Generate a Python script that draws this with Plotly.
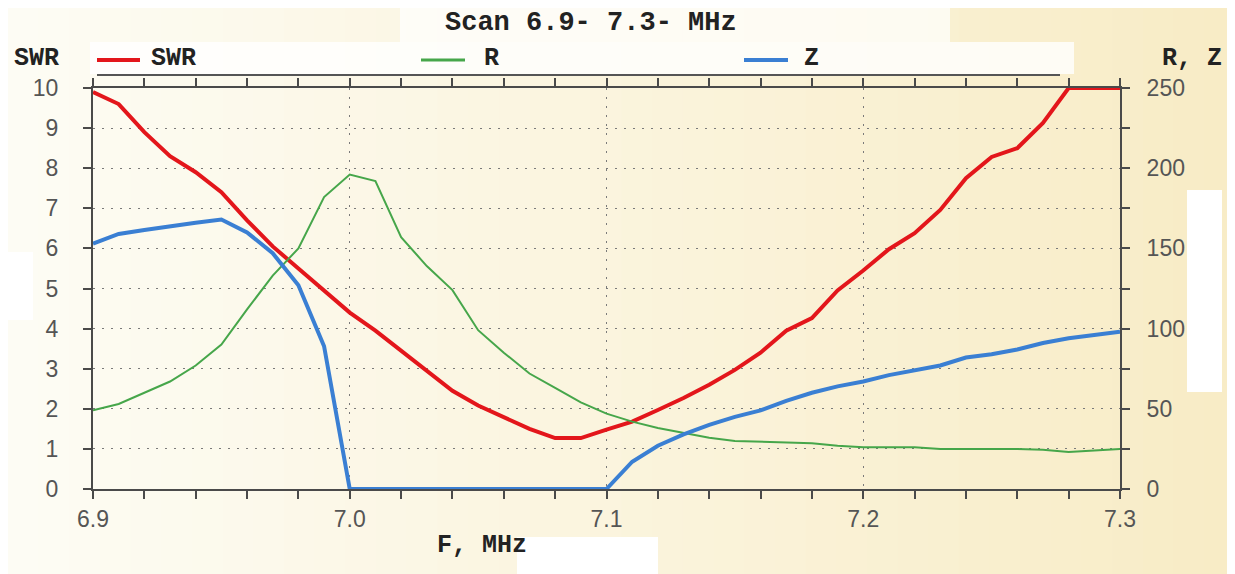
import plotly.graph_objects as go

# ---------------- data ----------------
freq = [6.90, 6.91, 6.92, 6.93, 6.94, 6.95, 6.96, 6.97, 6.98, 6.99,
        7.00, 7.01, 7.02, 7.03, 7.04, 7.05, 7.06, 7.07, 7.08, 7.09,
        7.10, 7.11, 7.12, 7.13, 7.14, 7.15, 7.16, 7.17, 7.18, 7.19,
        7.20, 7.21, 7.22, 7.23, 7.24, 7.25, 7.26, 7.27, 7.28, 7.29, 7.30]

swr = [9.9, 9.6, 8.9, 8.3, 7.9, 7.4, 6.7, 6.05, 5.5, 4.95,
       4.4, 3.95, 3.45, 2.95, 2.45, 2.08, 1.78, 1.5, 1.27, 1.27,
       1.48, 1.68, 1.97, 2.27, 2.6, 2.97, 3.4, 3.95, 4.26, 4.95,
       5.45, 5.98, 6.38, 6.96, 7.75, 8.28, 8.5, 9.13, 10.0, 10.0, 10.0]

r_ohm = [49, 53, 60, 67, 77, 90, 112, 133, 150, 182,
         196, 192, 157, 139, 124, 99, 85, 72, 63, 54,
         47, 42, 38, 35, 32, 30, 29.5, 29, 28.5, 27,
         26, 26, 26, 25, 25, 25, 25, 24.5, 23, 24, 25]

z_ohm = [153, 159, 161.5, 164, 166, 168, 160, 147, 127, 89,
         0, 0, 0, 0, 0, 0, 0, 0, 0, 0,
         0, 17, 27, 34, 40, 45, 49, 55, 60, 64,
         67, 71, 74, 77, 82, 84, 87, 91, 94, 96, 98]

x_ticks = [6.9, 7.0, 7.1, 7.2, 7.3]
x_tick_text = ["6.9", "7.0", "7.1", "7.2", "7.3"]
swr_ticks = list(range(0, 11))
rz_ticks = list(range(0, 251, 25))
rz_tick_text = [str(v) if v % 50 == 0 else "" for v in rz_ticks]

title_text = "Scan 6.9- 7.3- MHz"
colors = {"SWR": "#E3161B", "R": "#46A64A", "Z": "#3A7FD3"}

# ---------------- geometry (page px; page body has 8px margin) ----------------
OFF = 8
PAGE_W, PAGE_H = 1235, 574
W, H = PAGE_W - OFF, PAGE_H - OFF
L, R, T, B = 93, 1120, 88, 489   # plot area in page pixels


def px(x):
    return (x - L) / (R - L)


def py(y):
    return (B - y) / (B - T)


fig = go.Figure()

fig.add_trace(go.Scatter(x=freq, y=swr, name="SWR", mode="lines",
                         line=dict(color=colors["SWR"], width=4),
                         showlegend=False, yaxis="y"))
fig.add_trace(go.Scatter(x=freq, y=r_ohm, name="R", mode="lines",
                         line=dict(color=colors["R"], width=2),
                         showlegend=False, yaxis="y2"))
fig.add_trace(go.Scatter(x=freq, y=z_ohm, name="Z", mode="lines",
                         line=dict(color=colors["Z"], width=4),
                         showlegend=False, yaxis="y2"))

shapes = []
# background gradient (cream to beige)
n = 40
c0 = (253, 252, 244)
c1 = (248, 236, 198)
for i in range(n):
    t = i / (n - 1)
    col = tuple(int(round(c0[k] + (c1[k] - c0[k]) * t)) for k in range(3))
    x0 = OFF + i * W / n
    x1 = OFF + (i + 1) * W / n + 1
    shapes.append(dict(type="rect", xref="paper", yref="paper",
                       x0=px(x0), x1=px(x1), y0=py(PAGE_H + 2), y1=py(OFF - 2),
                       fillcolor="rgb(%d,%d,%d)" % col, line=dict(width=0),
                       layer="below"))
# whitish patches
for (x0, y0, x1, y1, op) in [(400, 6, 950, 42, 0.7), (90, 42, 1074, 74, 0.8),
                             (1187, 190, 1222, 392, 1.0), (8, 252, 33, 320, 1.0),
                             (517, 537, 658, 574, 1.0)]:
    shapes.append(dict(type="rect", xref="paper", yref="paper",
                       x0=px(x0), x1=px(x1), y0=py(y1), y1=py(y0),
                       fillcolor="rgba(255,255,255,%.2f)" % op, line=dict(width=0),
                       layer="below"))
# legend separator line
shapes.append(dict(type="line", xref="paper", yref="paper",
                   x0=px(97), x1=px(1060), y0=py(75), y1=py(75),
                   line=dict(color="#555555", width=2)))
# legend sample lines
for name, x0, x1 in [("SWR", 97, 140), ("R", 421, 465), ("Z", 744, 788)]:
    shapes.append(dict(type="line", xref="paper", yref="paper",
                       x0=px(x0), x1=px(x1), y0=py(60), y1=py(60),
                       line=dict(color=colors[name], width=4 if name != "R" else 3)))

mono = "Liberation Mono, Courier New, DejaVu Sans Mono, monospace"
annotations = [
    dict(text="<b>%s</b>" % title_text, x=px(591), y=py(23), xref="paper", yref="paper",
         showarrow=False, font=dict(family=mono, size=27, color="#222222"),
         xanchor="center", yanchor="middle"),
    dict(text="<b>SWR</b>", x=px(12), y=py(59), xref="paper", yref="paper",
         showarrow=False, font=dict(family=mono, size=25, color="#222222"),
         xanchor="left", yanchor="middle"),
    dict(text="<b>R, Z</b>", x=px(1224), y=py(59), xref="paper", yref="paper",
         showarrow=False, font=dict(family=mono, size=25, color="#222222"),
         xanchor="right", yanchor="middle"),
    dict(text="<b>F, MHz</b>", x=px(435), y=py(545), xref="paper", yref="paper",
         showarrow=False, font=dict(family=mono, size=25, color="#222222"),
         xanchor="left", yanchor="middle"),
]
for name, xt in [("SWR", 149), ("R", 482), ("Z", 802)]:
    annotations.append(dict(text="<b>%s</b>" % name, x=px(xt), y=py(59),
                            xref="paper", yref="paper", showarrow=False,
                            font=dict(family=mono, size=25, color="#222222"),
                            xanchor="left", yanchor="middle"))

tickfont = dict(family="Liberation Sans Narrow, Arial Narrow, Liberation Sans, sans-serif",
                size=23, color="#555555")
grid_dash = "2px,7px"
axis_col = "#4a4a4a"

fig.update_layout(
    width=W, height=H,
    margin=dict(l=L - OFF, r=W - (R - OFF), t=T - OFF, b=H - (B - OFF), pad=0),
    paper_bgcolor="#FBF6E4",
    plot_bgcolor="rgba(0,0,0,0)",
    shapes=shapes,
    annotations=annotations,
    showlegend=False,
    xaxis=dict(range=[6.9, 7.3], tickvals=x_ticks, ticktext=x_tick_text,
               showline=True, linecolor=axis_col, linewidth=2, mirror="allticks",
               ticks="outside", ticklen=8, tickcolor=axis_col, tickwidth=1.5,
               showgrid=True, gridcolor="#7a7a7a", griddash=grid_dash, gridwidth=1.2,
               minor=dict(dtick=0.02, tick0=6.9, ticks="outside", ticklen=7,
                          tickcolor=axis_col, showgrid=False),
               tickfont=tickfont, ticklabelstandoff=0, zeroline=False),
    yaxis=dict(range=[0, 10], tickvals=swr_ticks,
               showline=True, linecolor=axis_col, linewidth=2,
               ticks="outside", ticklen=8, tickcolor=axis_col, tickwidth=1.5,
               showgrid=True, gridcolor="#7a7a7a", griddash=grid_dash, gridwidth=1.2,
               tickfont=tickfont, ticklabelstandoff=20, zeroline=False),
    yaxis2=dict(range=[0, 250], tickvals=rz_ticks, ticktext=rz_tick_text,
                overlaying="y", side="right",
                showline=True, linecolor=axis_col, linewidth=2,
                ticks="outside", ticklen=8, tickcolor=axis_col, tickwidth=1.5,
                showgrid=False, tickfont=tickfont, ticklabelstandoff=12,
                zeroline=False),
)

fig.write_html("out.html")
